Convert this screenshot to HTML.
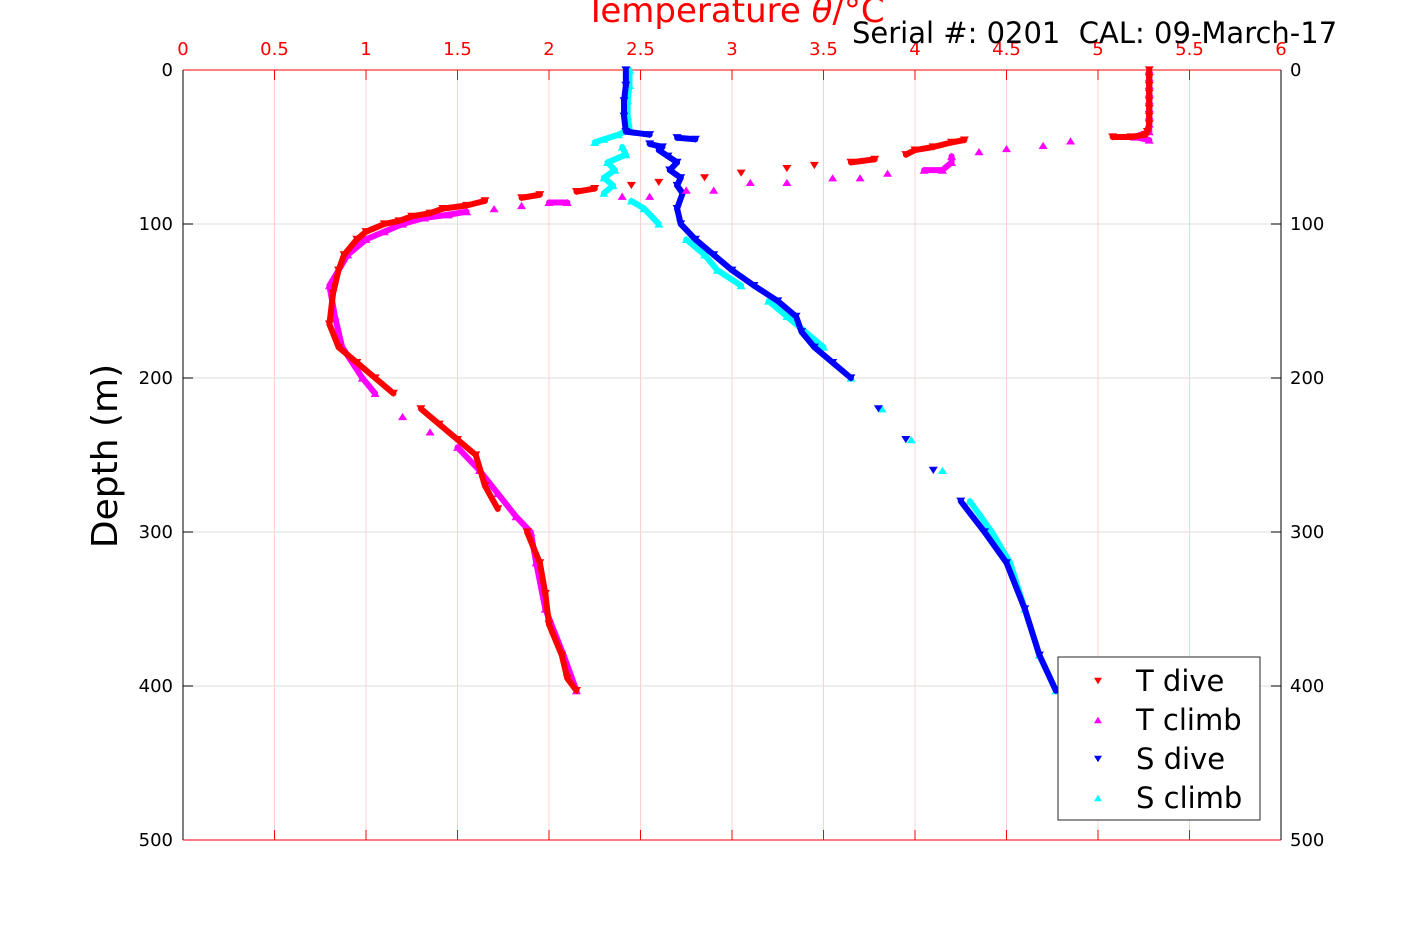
<!DOCTYPE html>
<html><head><meta charset="utf-8"><style>
body{margin:0;background:#fff;}
svg{display:block;font-family:"DejaVu Sans","Liberation Sans",sans-serif;}
</style></head><body>
<svg id="chart" width="1417" height="945" viewBox="0 0 1417 945" xmlns="http://www.w3.org/2000/svg">
<rect width="1417" height="945" fill="#fff"/>
<g id="grid"></g>
<g id="axes"></g>
<g id="marks"></g>
<text x="735" y="22" fill="#ff0000" font-size="34" text-anchor="middle">Temperature <tspan font-style="italic">θ</tspan>/°C</text>
<text x="852" y="43" fill="#000" font-size="29" xml:space="preserve" style="white-space:pre">Serial #: 0201  CAL: 09-March-17</text>
<text transform="translate(117,456) rotate(-90)" fill="#000" font-size="36" text-anchor="middle">Depth (m)</text>
<g id="legend">
<rect x="1058" y="657" width="202" height="163" fill="#fff" stroke="#262626" stroke-width="1"/>
</g>
</svg>
<script>
const xTicks=[0,0.5,1,1.5,2,2.5,3,3.5,4,4.5,5,5.5,6];
const xTickLabels=["0","0.5","1","1.5","2","2.5","3","3.5","4","4.5","5","5.5","6"];
const yTicks=[0,100,200,300,400,500];
const tDiveDepth=[0,5,10,15,20,25,30,35,40,42,43.5,43.5,45.5,47,50,52,55,58,60,62,64,67,70,73,75,77,79,81,83,85,88,90,93,95,98,100,105,110,120,130,145,165,180,190,200,210,220,230,240,250,270,285,300,320,340,360,380,395,403];
const tDiveVal=[5.28,5.28,5.28,5.28,5.28,5.28,5.28,5.28,5.27,5.26,5.18,5.08,4.27,4.2,4.1,4.0,3.95,3.78,3.65,3.45,3.3,3.05,2.85,2.6,2.45,2.25,2.15,1.95,1.85,1.65,1.55,1.42,1.35,1.25,1.18,1.1,1.0,0.95,0.88,0.85,0.82,0.8,0.85,0.95,1.05,1.15,1.3,1.4,1.5,1.6,1.65,1.72,1.88,1.95,1.98,2.0,2.07,2.1,2.15];
const tClimbDepth=[0,5,10,15,20,25,30,35,40,43.5,45.5,46,49,51,53,56,60,65,65,67,70,70,73,73,78,78,82,82,86,86,88,90,92,94,96,100,105,110,120,140,160,180,200,210,225,235,245,260,275,290,300,320,350,380,403];
const tClimbVal=[5.28,5.28,5.28,5.28,5.28,5.28,5.28,5.28,5.28,5.2,5.28,4.85,4.7,4.5,4.35,4.2,4.2,4.15,4.05,3.85,3.7,3.55,3.3,3.1,2.9,2.75,2.55,2.4,2.1,2.0,1.85,1.7,1.55,1.45,1.32,1.2,1.1,1.0,0.9,0.8,0.83,0.87,0.98,1.05,1.2,1.35,1.5,1.62,1.72,1.82,1.9,1.93,1.98,2.08,2.15];
const sDiveDepth=[0,10,20,30,40,42,44,45,48,50,52,56,60,65,70,75,80,90,100,110,120,130,140,150,160,170,180,190,200,220,240,260,280,300,320,350,380,403];
const sDiveVal=[2.42,2.42,2.41,2.41,2.42,2.55,2.7,2.8,2.55,2.62,2.6,2.65,2.7,2.66,2.72,2.7,2.73,2.7,2.72,2.8,2.9,3.0,3.12,3.25,3.35,3.38,3.45,3.55,3.65,3.8,3.95,4.1,4.25,4.38,4.5,4.6,4.68,4.77];
const sClimbDepth=[0,10,20,30,38,42,45,47,50,55,60,65,70,75,80,85,90,100,110,120,130,140,150,160,170,180,200,220,240,260,280,300,320,350,380,403];
const sClimbVal=[2.44,2.44,2.43,2.43,2.44,2.38,2.3,2.25,2.4,2.42,2.32,2.36,2.3,2.35,2.3,2.45,2.52,2.6,2.75,2.85,2.92,3.05,3.2,3.3,3.4,3.5,3.65,3.82,3.98,4.15,4.3,4.42,4.52,4.6,4.68,4.77];

const X0=183,X1=1281,Y0=70,Y1=840;
const xs=v=>X0+(v-0)/(6-0)*(X1-X0);
const ys=d=>Y0+(d-0)/(500-0)*(Y1-Y0);
const NS="http://www.w3.org/2000/svg";
function mk(tag,attrs,parent){const e=document.createElementNS(NS,tag);for(const k in attrs)e.setAttribute(k,attrs[k]);parent.appendChild(e);return e;}
const grid=document.getElementById('grid'),axes=document.getElementById('axes'),marks=document.getElementById('marks');
xTicks.forEach((t,i)=>{
  const g=mk('line',{x1:xs(t),x2:xs(t),y1:Y0,y2:Y1,stroke:'#ffd0d0','stroke-width':1},grid);
  
  
  const tk=mk('line',{x1:xs(t),x2:xs(t),y1:Y0,y2:Y0+10,stroke:'#ff0000'},axes);
  
  
  const tk2=mk('line',{x1:xs(t),x2:xs(t),y1:Y1,y2:Y1-10,stroke:'#ff0000'},axes);
  
  
  const lb=mk('text',{x:xs(t),y:55,fill:'#ff0000','font-size':18,'text-anchor':'middle'},axes);
  lb.textContent=xTickLabels[i];
  
  
});
yTicks.forEach(t=>{
  const g=mk('line',{x1:X0,x2:X1,y1:ys(t),y2:ys(t),stroke:'#dcdcdc','stroke-width':1},grid);
  
  
  const l=mk('text',{x:173,y:ys(t)+6,fill:'#000','font-size':18,'text-anchor':'end'},axes);
  l.textContent=t;
  
  
  const r=mk('text',{x:1290,y:ys(t)+6,fill:'#000','font-size':18},axes);
  r.textContent=t;
  
  
  const a=mk('line',{x1:X0,x2:X0+10,y1:ys(t),y2:ys(t),stroke:'#000'},axes);
  
  
  const b=mk('line',{x1:X1,x2:X1-10,y1:ys(t),y2:ys(t),stroke:'#000'},axes);
  
  
});
[[X0,Y0,X1,Y0,'#ff0000','top-axis'],[X0,Y1,X1,Y1,'#ff0000','bottom-axis'],[X0,Y0,X0,Y1,'#000','left-axis'],[X1,Y0,X1,Y1,'#000','right-axis']].forEach(a=>{
  const l=mk('line',{x1:a[0],y1:a[1],x2:a[2],y2:a[3],stroke:a[4],'stroke-width':1},axes);
  
  
});
function tri(x,y,down,s){
  return down?`${x-s},${y-s*0.8} ${x+s},${y-s*0.8} ${x},${y+s*0.8}`:`${x-s},${y+s*0.8} ${x+s},${y+s*0.8} ${x},${y-s*0.8}`;
}
function series(depths,vals,col,down,name){
  const g=mk('g',{},marks);
  
  
  for(let i=1;i<depths.length;i++){
    if(Math.abs(vals[i]-vals[i-1])<=0.14){
      const s=mk('line',{x1:xs(vals[i-1]),y1:ys(depths[i-1]),x2:xs(vals[i]),y2:ys(depths[i]),stroke:col,'stroke-width':6,'stroke-linecap':'round'},g);
      
      
    }
  }
  depths.forEach((d,i)=>{
    const p=mk('polygon',{points:tri(xs(vals[i]),ys(d),down,4.5),fill:col},g);
    
    
  });
}
series(sClimbDepth,sClimbVal,'#00ffff',false,'s-climb-series');
series(sDiveDepth,sDiveVal,'#0000ff',true,'s-dive-series');
series(tClimbDepth,tClimbVal,'#ff00ff',false,'t-climb-series');
series(tDiveDepth,tDiveVal,'#ff0000',true,'t-dive-series');
const legend=document.getElementById('legend');
[['T dive','#ff0000',true],['T climb','#ff00ff',false],['S dive','#0000ff',true],['S climb','#00ffff',false]].forEach((e,i)=>{
  const y=681+i*39;
  const g=mk('g',{},legend);
  
  
  mk('polygon',{points:tri(1098,y,e[2],4),fill:e[1]},g);
  const t=mk('text',{x:1136,y:y+10,'font-size':29,fill:'#000'},g);
  t.textContent=e[0];
});
</script>
</body></html>
